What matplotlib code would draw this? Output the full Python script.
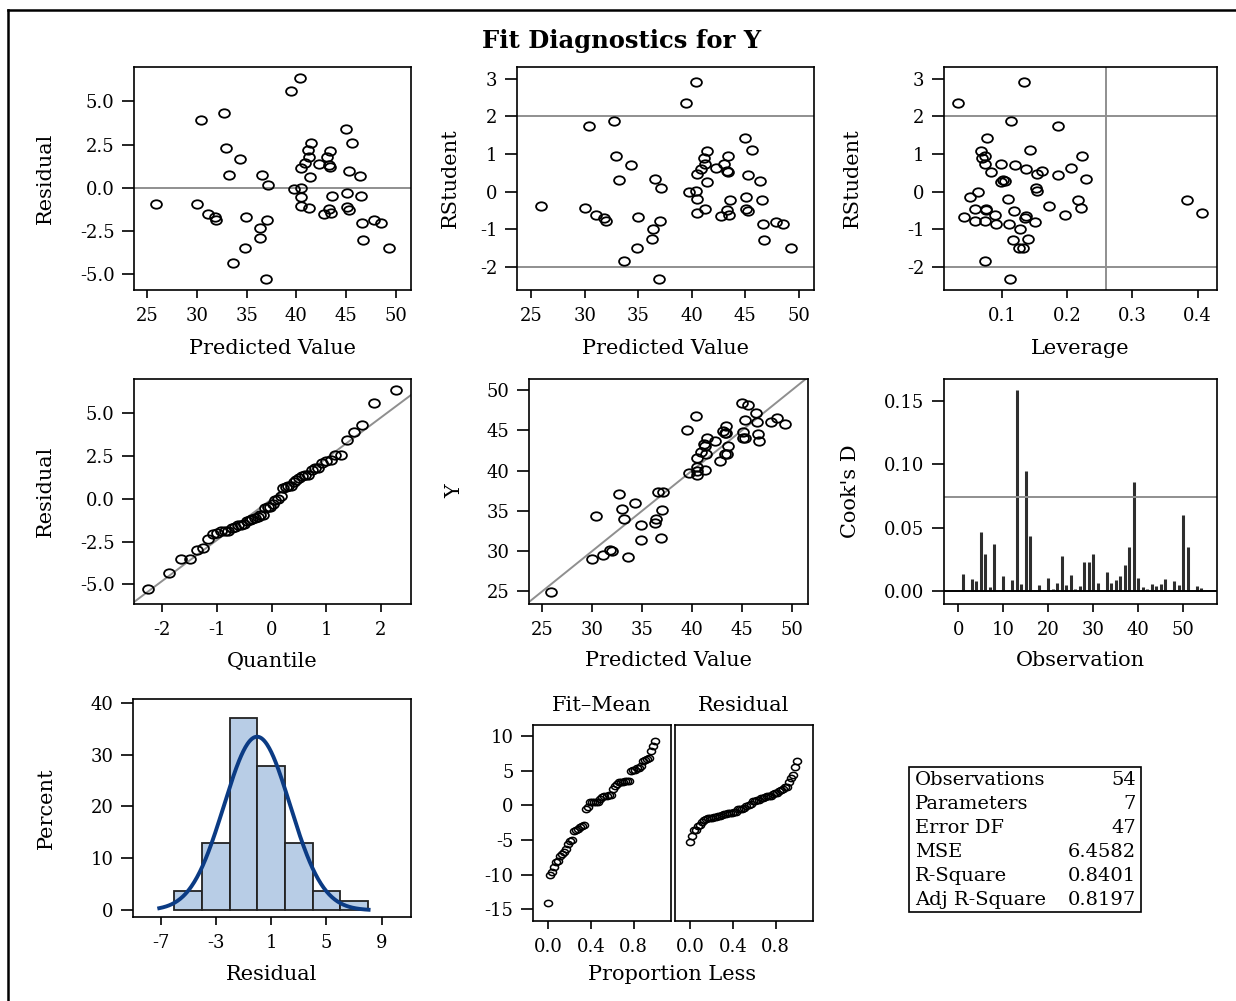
import numpy as np
import matplotlib
matplotlib.use("Agg")
import matplotlib.pyplot as plt
from matplotlib.path import Path
from matplotlib.transforms import Affine2D
from matplotlib.ticker import FormatStrFormatter
from matplotlib.patches import Rectangle
from matplotlib.lines import Line2D
from statistics import NormalDist

# values (54 observations)
predicted = [25.87, 30.40, 32.72, 29.97, 31.07, 31.81, 31.95, 32.95, 33.22, 34.33,
             33.62, 34.93, 34.87, 36.38, 36.31, 37.01, 36.58, 37.11, 36.91, 39.46,
             40.40, 39.73, 40.44, 40.50, 40.47, 41.28, 40.47, 40.84, 41.28, 41.14,
             41.44, 41.41, 42.32, 43.05, 43.39, 43.32, 43.42, 43.56, 43.32, 43.46,
             42.79, 44.97, 45.60, 45.30, 46.44, 45.07, 45.13, 45.30, 46.54, 46.64,
             46.74, 47.85, 48.52, 49.33]
residual = [-0.95, 3.93, 4.32, -0.93, -1.51, -1.72, -1.90, 2.29, 0.76, 1.67,
            -4.36, -1.67, -3.51, -2.36, -2.89, -1.90, 0.76, 0.17, -5.29, 5.58,
            6.38, -0.06, 0.00, -0.52, -1.07, -1.16, 1.12, 1.41, 1.80, 2.19,
            2.58, 0.64, 1.38, 1.80, 2.11, 1.32, 1.22, -0.50, -1.24, -1.45,
            -1.55, 3.41, 2.58, 0.99, 0.68, -0.33, -1.12, -1.28, -0.50, -2.05,
            -3.02, -1.86, -2.02, -3.51]
rstudent = [-0.39, 1.75, 1.87, -0.42, -0.61, -0.71, -0.77, 0.94, 0.31, 0.70,
            -1.84, -0.68, -1.50, -1.00, -1.25, -0.77, 0.34, 0.09, -2.31, 2.35,
            2.92, -0.01, 0.02, -0.20, -0.56, -0.47, 0.46, 0.60, 0.74, 0.89,
            1.08, 0.25, 0.63, 0.74, 0.95, 0.54, 0.52, -0.23, -0.49, -0.61,
            -0.64, 1.43, 1.11, 0.44, 0.29, -0.13, -0.47, -0.52, -0.23, -0.85,
            -1.29, -0.80, -0.85, -1.50]
leverage = [0.172, 0.185, 0.114, 0.221, 0.197, 0.135, 0.058, 0.073, 0.1015, 0.120,
            0.074, 0.0415, 0.126, 0.128, 0.140, 0.074, 0.229, 0.152, 0.112, 0.0328,
            0.134, 0.063, 0.153, 0.109, 0.407, 0.058, 0.154, 0.137, 0.099, 0.069,
            0.068, 0.099, 0.205, 0.074, 0.222, 0.161, 0.083, 0.217, 0.076, 0.089,
            0.137, 0.0764, 0.143, 0.185, 0.104, 0.051, 0.075, 0.118, 0.383, 0.091,
            0.116, 0.151, 0.110, 0.132]
cooks_d = [0.0136, 0.0003, 0.0094, 0.0081, 0.0466, 0.0293, 0.0037, 0.0372, 0.0003, 0.0123,
           0.0013, 0.0086, 0.1584, 0.0058, 0.0950, 0.0435, 0.0013, 0.0047, 0.0013, 0.0107,
           0.0016, 0.0063, 0.0275, 0.0047, 0.0131, 0.0021, 0.0045, 0.0228, 0.0228, 0.0291,
           0.0068, 0.0003, 0.0152, 0.0063, 0.0086, 0.0118, 0.0204, 0.0351, 0.0861, 0.0105,
           0.0031, 0.0016, 0.0060, 0.0039, 0.0060, 0.0097, 0.0003, 0.0079, 0.0052, 0.0602,
           0.0346, 0.0003, 0.0045, 0.0024]
hist_edges = [-6, -4, -2, 0, 2, 4, 6, 8]

stat_names = ["Observations", "Parameters", "Error DF", "MSE", "R-Square", "Adj R-Square"]
stat_values = ["54", "7", "47", "6.4582", "0.8401", "0.8197"]
n_obs = 54
n_params = 7

plt.rcParams["font.family"] = ["DejaVu Serif"]
plt.rcParams["axes.unicode_minus"] = False

W, H = 1236, 1001
fig = plt.figure(figsize=(W / 100, H / 100), dpi=100)
fig.patch.set_facecolor("white")

REF = "#8f8f8f"
TICK_FS = 13
LABEL_FS = 15
ELLIPSE = Path.unit_circle().transformed(Affine2D().scale(1.0, 0.78))


def place(left, top, right, bottom):
    ax = fig.add_axes([left / W, 1 - bottom / H, (right - left) / W, (bottom - top) / H])
    for sp in ax.spines.values():
        sp.set_linewidth(1.2)
    ax.tick_params(axis="x", direction="out", length=6, width=1.2, pad=6, labelsize=TICK_FS)
    ax.tick_params(axis="y", direction="out", length=9, width=1.2, pad=5, labelsize=TICK_FS)
    ax.box = (left, top, right, bottom)
    return ax


def labels(ax, xlabel, ylabel, xl_y, yl_x):
    left, top, right, bottom = ax.box
    if xlabel:
        ax.set_xlabel(xlabel, fontsize=LABEL_FS)
        ax.xaxis.set_label_coords(0.5, -(xl_y - bottom) / (bottom - top))
        ax.xaxis.label.set_va("center")
    if ylabel:
        ax.set_ylabel(ylabel, fontsize=LABEL_FS)
        ax.yaxis.set_label_coords((yl_x - left) / (right - left), 0.5)
        ax.yaxis.label.set_va("center")


def circles(ax, x, y, size=7.8, mew=1.3):
    ax.plot(x, y, linestyle="none", marker=ELLIPSE, markersize=size,
            markerfacecolor="none", markeredgecolor="black", markeredgewidth=mew)


pred = np.array(predicted)
res = np.array(residual)
y_obs = pred + res

# row 1: residual vs predicted
ax1 = place(134, 67, 411, 290)
ax1.axhline(0, color=REF, lw=1.4)
circles(ax1, pred, res)
ax1.set_xlim(23.66, 51.54)
ax1.set_ylim(-5.93, 7.0)
ax1.set_xticks([25, 30, 35, 40, 45, 50])
ax1.set_yticks([-5, -2.5, 0, 2.5, 5])
ax1.yaxis.set_major_formatter(FormatStrFormatter("%.1f"))
labels(ax1, "Predicted Value", "Residual", 348, 45)

# rstudent vs predicted
ax2 = place(517, 67, 814, 290)
ax2.axhline(2, color=REF, lw=1.4)
ax2.axhline(-2, color=REF, lw=1.4)
circles(ax2, pred, rstudent)
ax2.set_xlim(23.65, 51.45)
ax2.set_ylim(-2.61, 3.31)
ax2.set_xticks([25, 30, 35, 40, 45, 50])
ax2.set_yticks([-2, -1, 0, 1, 2, 3])
labels(ax2, "Predicted Value", "RStudent", 348, 450)

# rstudent vs leverage
ax3 = place(944, 67, 1217, 290)
ax3.axhline(2, color=REF, lw=1.4)
ax3.axhline(-2, color=REF, lw=1.4)
ax3.axvline(2 * n_params / n_obs, color=REF, lw=1.4)
circles(ax3, leverage, rstudent)
ax3.set_xlim(0.0108, 0.4297)
ax3.set_ylim(-2.61, 3.31)
ax3.set_xticks([0.1, 0.2, 0.3, 0.4])
ax3.xaxis.set_major_formatter(FormatStrFormatter("%.1f"))
ax3.set_yticks([-2, -1, 0, 1, 2, 3])
labels(ax3, "Leverage", "RStudent", 348, 852)

# row 2: normal quantile plot of residuals
ax4 = place(134, 379, 411, 604)
order = np.sort(res)
quant = [NormalDist().inv_cdf((i - 0.375) / (n_obs + 0.25)) for i in range(1, n_obs + 1)]
ax4.axline((0, res.mean()), slope=res.std(ddof=1), color=REF, lw=1.4)
circles(ax4, quant, order)
ax4.set_xlim(-2.52, 2.55)
ax4.set_ylim(-6.15, 7.0)
ax4.set_xticks([-2, -1, 0, 1, 2])
ax4.set_yticks([-5, -2.5, 0, 2.5, 5])
ax4.yaxis.set_major_formatter(FormatStrFormatter("%.1f"))
labels(ax4, "Quantile", "Residual", 661, 45)

# observed vs predicted
ax5 = place(529, 379, 808, 604)
ax5.axline((30, 30), slope=1, color=REF, lw=1.4)
circles(ax5, pred, y_obs)
ax5.set_xlim(23.67, 51.6)
ax5.set_ylim(23.42, 51.37)
ax5.set_xticks([25, 30, 35, 40, 45, 50])
ax5.set_yticks([25, 30, 35, 40, 45, 50])
labels(ax5, "Predicted Value", "Y", 661, 455)

# cook's D by observation
ax6 = place(944, 379, 1217, 604)
obs = np.arange(1, n_obs + 1)
ax6.vlines(obs, 0, cooks_d, color="#2e2e2e", lw=2.2)
ax6.axhline(0, color="black", lw=1.4)
ax6.axhline(4 / n_obs, color=REF, lw=1.4)
ax6.set_xlim(-3.18, 57.55)
ax6.set_ylim(-0.0099, 0.167)
ax6.set_xticks([0, 10, 20, 30, 40, 50])
ax6.set_yticks([0, 0.05, 0.10, 0.15])
ax6.yaxis.set_major_formatter(FormatStrFormatter("%.2f"))
labels(ax6, "Observation", "Cook's D", 661, 851)

# row 3: histogram of residuals with normal density
ax7 = place(133, 699, 411, 917)
ax7.hist(res, bins=hist_edges, weights=np.full(n_obs, 100 / n_obs),
         color="#b8cde6", edgecolor="#222222", linewidth=1.3, zorder=2)
sd = res.std(ddof=1)
xs = np.linspace(-7.1, 8.05, 300)
bin_w = hist_edges[1] - hist_edges[0]
dens = [100 * bin_w * NormalDist(res.mean(), sd).pdf(v) for v in xs]
ax7.plot(xs, dens, color="#0b3b84", lw=2.8, zorder=3)
ax7.set_xlim(-9.0, 11.12)
ax7.set_ylim(-1.29, 40.7)
ax7.set_xticks([-7, -3, 1, 5, 9])
ax7.set_yticks([0, 10, 20, 30, 40])
labels(ax7, "Residual", "Percent", 974, 46)

# residual-fit spread plot
prop = (obs - 1) / (n_obs - 1)
ax8 = place(533, 725, 671, 921)
circles(ax8, prop, np.sort(pred - pred.mean()), size=5.8, mew=1.1)
ax9 = place(675, 725, 813, 921)
circles(ax9, prop, np.sort(res), size=5.8, mew=1.1)
for ax, title in [(ax8, "Fit\u2013Mean"), (ax9, "Residual")]:
    ax.set_xlim(-0.14, 1.15)
    ax.set_ylim(-16.69, 11.59)
    ax.set_xticks([0.0, 0.4, 0.8])
    ax.xaxis.set_major_formatter(FormatStrFormatter("%.1f"))
    ax.set_title(title, fontsize=LABEL_FS, pad=10)
ax8.set_yticks([-15, -10, -5, 0, 5, 10])
ax9.set_yticks([])
fig.text(672 / W, 1 - 975 / H, "Proportion Less", fontsize=LABEL_FS, ha="center", va="center")

# fit statistics table
fig.add_artist(Rectangle((909 / W, 1 - 912 / H), (1141 - 909) / W, (912 - 767) / H,
                         transform=fig.transFigure, fill=False, edgecolor="black", lw=1.2))
for i, (name, val) in enumerate(zip(stat_names, stat_values)):
    yy = 1 - (780 + 24 * i) / H
    fig.text(915 / W, yy, name, fontsize=14, ha="left", va="center")
    fig.text(1136 / W, yy, val, fontsize=14, ha="right", va="center")

fig.text(622 / W, 1 - 41 / H, "Fit Diagnostics for Y", fontsize=17.5, fontweight="bold",
         ha="center", va="center")

# outer frame (left and top edges only)
fig.add_artist(Line2D([8 / W, 8 / W], [0, 1 - 10 / H], color="black", lw=1.8))
fig.add_artist(Line2D([8 / W, 1], [1 - 10 / H, 1 - 10 / H], color="black", lw=1.8))

fig.savefig("out.png", dpi=100)
